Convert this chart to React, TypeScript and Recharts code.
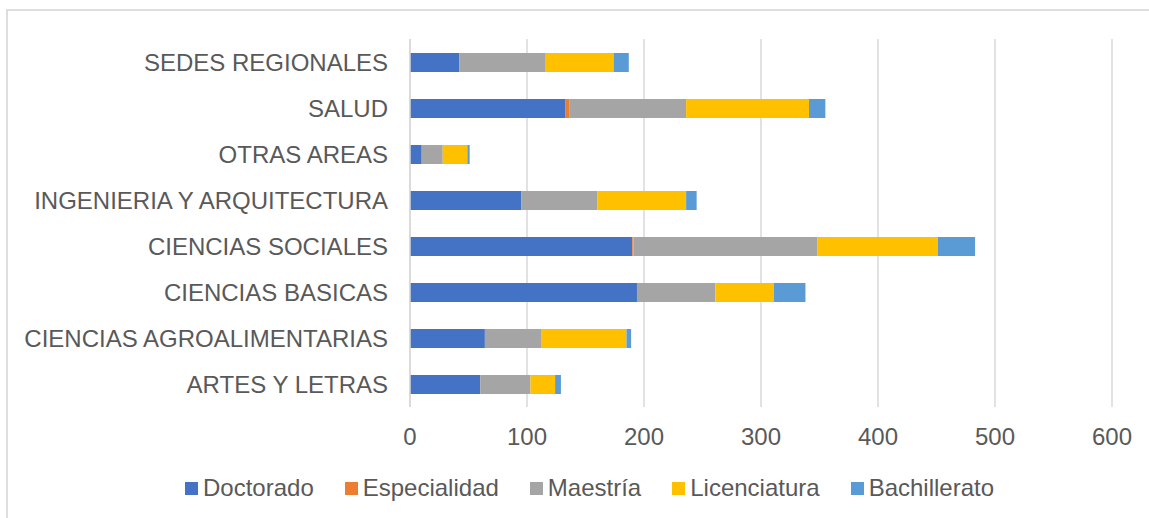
import React from 'react'
import { BarChart, Bar, XAxis, YAxis, CartesianGrid, Legend } from 'recharts'

const categories = [
  'SEDES REGIONALES',
  'SALUD',
  'OTRAS AREAS',
  'INGENIERIA Y ARQUITECTURA',
  'CIENCIAS SOCIALES',
  'CIENCIAS BASICAS',
  'CIENCIAS AGROALIMENTARIAS',
  'ARTES Y LETRAS',
]

const doctorado = [42, 133, 10, 95, 190, 194, 64, 60]
const especialidad = [0, 3, 0, 0, 1, 0, 0, 0]
const maestria = [74, 100, 18, 65, 157, 67, 48, 43]
const licenciatura = [58, 105, 21, 76, 103, 50, 73, 21]
const bachillerato = [13, 14, 2, 9, 32, 27, 4, 5]

const xTicks = [0, 100, 200, 300, 400, 500, 600]

const series = [
  { key: 'Doctorado', color: '#4472C4' },
  { key: 'Especialidad', color: '#ED7D31' },
  { key: 'Maestría', color: '#A5A5A5' },
  { key: 'Licenciatura', color: '#FFC000' },
  { key: 'Bachillerato', color: '#5B9BD5' },
]

const data = categories.map((name, i) => ({
  name,
  Doctorado: doctorado[i],
  Especialidad: especialidad[i],
  Maestría: maestria[i],
  Licenciatura: licenciatura[i],
  Bachillerato: bachillerato[i],
}))

const font = "'Liberation Sans', Arial, sans-serif"
const textColor = '#595959'

function LegendContent() {
  return (
    <div
      style={{
        display: 'flex',
        alignItems: 'center',
        height: 40,
        paddingLeft: 185,
        fontFamily: font,
        fontSize: 24,
        color: textColor,
      }}
    >
      {series.map((s) => (
        <div key={s.key} style={{ display: 'flex', alignItems: 'center', marginRight: 31 }}>
          <span style={{ width: 13, height: 13, background: s.color, marginRight: 5 }} />
          <span>{s.key}</span>
        </div>
      ))}
    </div>
  )
}

export default function App() {
  return (
    <div style={{ position: 'absolute', left: 0, top: 0, width: 1149, height: 518, background: '#fff' }}>
      <div
        style={{
          position: 'absolute',
          left: 6,
          top: 9,
          width: 1160,
          height: 530,
          border: '2px solid #dedede',
          boxSizing: 'border-box',
        }}
      />
      <BarChart
        width={1149}
        height={518}
        data={data}
        layout='vertical'
        barSize={19}
        margin={{ top: 39, right: 37, left: 0, bottom: 10 }}
        style={{ position: 'absolute', left: 0, top: 0 }}
      >
        <CartesianGrid horizontal={false} stroke='#d9d9d9' strokeWidth={1.5} />
        <XAxis
          type='number'
          domain={[0, 600]}
          ticks={xTicks}
          axisLine={false}
          tickLine={false}
          tickSize={0}
          tickMargin={21}
          height={61}
          tick={{ fill: textColor, fontSize: 24, fontFamily: font }}
        />
        <YAxis
          type='category'
          dataKey='name'
          width={410}
          axisLine={{ stroke: '#d9d9d9', strokeWidth: 1.5 }}
          tickLine={false}
          tickSize={0}
          tickMargin={22}
          interval={0}
          tick={{ fill: textColor, fontSize: 24, fontFamily: font }}
        />
        <Legend verticalAlign='bottom' height={40} content={<LegendContent />} />
        {series.map((s) => (
          <Bar key={s.key} dataKey={s.key} stackId='a' fill={s.color} isAnimationActive={false} />
        ))}
      </BarChart>
    </div>
  )
}
